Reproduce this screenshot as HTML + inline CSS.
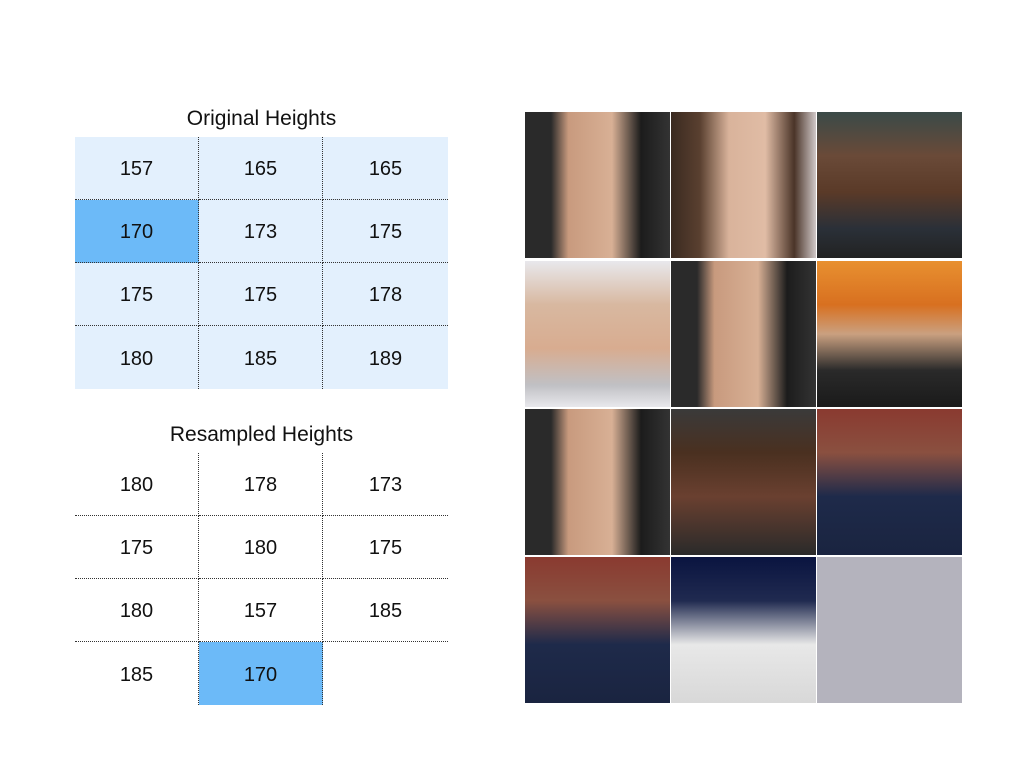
<!DOCTYPE html>
<html><head><meta charset="utf-8">
<style>
body{margin:0;width:1024px;height:768px;background:#fff;position:relative;overflow:hidden;font-family:"Liberation Sans",Arial,sans-serif;}
.title{position:absolute;width:373px;left:75px;text-align:center;font-size:21px;color:#111;}
.cell{position:absolute;box-sizing:border-box;display:flex;align-items:center;justify-content:center;font-size:20px;color:#111;padding-top:3px;}
.img{position:absolute;}
</style></head>
<body>
<div class="title" style="top:107px">Original Heights</div>
<div class="title" style="top:423px">Resampled Heights</div>
<div id="orig"></div>
<div id="res"></div>
<div id="grid"></div>
<script>
const originalValues=[157,165,165,170,173,175,175,175,178,180,185,189];
const resampledValues=[180,178,173,175,180,175,180,157,185,185,170,null];
const originalHighlight=[3];
const resampledHighlight=[10];
const photoColors=[
 "linear-gradient(90deg,#2a2a2a 0%,#2a2a2a 18%,#c89a7e 30%,#d8b095 60%,#1c1c1c 80%,#333 100%)",
 "linear-gradient(90deg,#3a2a20 0%,#5a4030 20%,#d9b39b 40%,#e0bca5 65%,#4a3428 85%,#d0c8c8 100%)",
 "linear-gradient(180deg,#3a4a48 0%,#6a4a38 30%,#5a3a28 55%,#2a3038 80%,#222 100%)",
 "linear-gradient(180deg,#e8e8ec 0%,#d8b8a0 30%,#d8ac90 60%,#c0c0c4 85%,#e8e8ec 100%)",
 "linear-gradient(90deg,#2a2a2a 0%,#2a2a2a 18%,#c89a7e 30%,#d8b095 60%,#1c1c1c 80%,#333 100%)",
 "linear-gradient(180deg,#e89030 0%,#d87020 30%,#caa080 50%,#2a2a2a 75%,#1a1a1a 100%)",
 "linear-gradient(90deg,#2a2a2a 0%,#2a2a2a 18%,#c89a7e 30%,#d8b095 60%,#1c1c1c 80%,#333 100%)",
 "linear-gradient(180deg,#3a3a3a 0%,#4a3020 30%,#6a4030 60%,#2a2a2a 100%)",
 "linear-gradient(180deg,#8a3a30 0%,#8a5040 30%,#1e2a4a 60%,#1a2440 100%)",
 "linear-gradient(180deg,#8a3a30 0%,#8a5040 30%,#1e2a4a 60%,#1a2440 100%)",
 "linear-gradient(180deg,#0a1440 0%,#202a50 30%,#e8e8e8 60%,#d8d8d8 100%)",
 "#b4b3bd"];

function buildTable(id,vals,hl,top,shaded){
  const root=document.getElementById(id);
  const xs=[75,199,323,448], ys=[0,63,126,189,252];
  for(let i=0;i<vals.length;i++){
    const r=Math.floor(i/3),c=i%3;
    const d=document.createElement('div');
    d.className='cell';
    
    
    d.style.left=xs[c]+'px';d.style.top=(top+ys[r])+'px';
    d.style.width=(xs[c+1]-xs[c])+'px';d.style.height=(ys[r+1]-ys[r])+'px';
    let bg=shaded?'#e3f0fd':'transparent';
    if(hl.includes(i)) bg='#6cbaf8';
    d.style.background=bg;
    if(vals[i]!==null){
      if(c<2) d.style.borderRight='1px dotted #333';
      if(r<3) d.style.borderBottom='1px dotted #333';
      d.textContent=vals[i];
    } else if(r<3) d.style.borderBottom='1px dotted #333';
    root.appendChild(d);
  }
}
buildTable('orig',originalValues,originalHighlight,137,true);
buildTable('res',resampledValues,resampledHighlight,453,false);

const g=document.getElementById('grid');
const gx=[525,671,817], gy=[112,261,409,557];
photoColors.forEach((col,i)=>{
  const d=document.createElement('div');
  d.className='img';
  
  
  d.style.left=gx[i%3]+'px';d.style.top=gy[Math.floor(i/3)]+'px';
  d.style.width='145px';d.style.height='146px';
  d.style.background=col;
  g.appendChild(d);
});
</script>
</body></html>
